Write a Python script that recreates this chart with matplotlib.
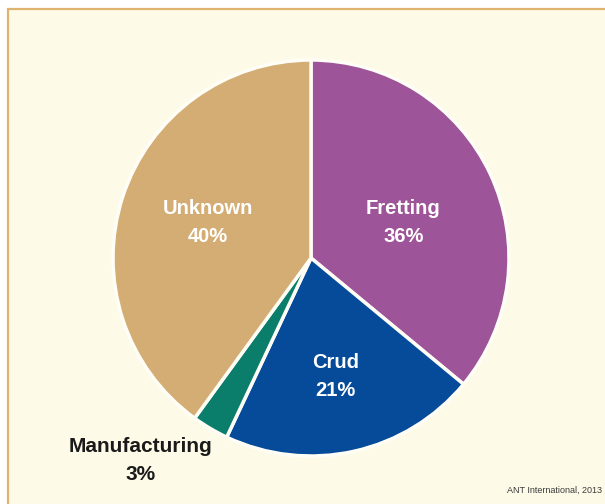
import numpy as np
import matplotlib.pyplot as plt
from matplotlib.patches import Rectangle

# failure causes, clockwise from 12 o'clock
causes = ["Fretting", "Crud", "Manufacturing", "Unknown"]
shares = [36, 21, 3, 40]
colors = ["#9E5498", "#054B9A", "#0B7E6B", "#D4AD74"]
credit = "ANT International, 2013"

W, H = 605, 504
bg = "#FEFAE8"
fig = plt.figure(figsize=(W / 100, H / 100), dpi=100)
fig.patch.set_facecolor("white")
ax = fig.add_axes([0, 0, 1, 1])

# cream panel with tan frame on the left and top
ax.add_patch(Rectangle((8, -5), W, H - 9 + 5, facecolor=bg,
                       edgecolor="#DDB36E", linewidth=1.6, zorder=0))

cx, cy, R = 311, H - 258, 198
wedges, _ = ax.pie(shares, colors=colors, startangle=90, counterclock=False,
                   center=(cx, cy), radius=R, frame=True,
                   wedgeprops=dict(edgecolor="#FFFEF6", linewidth=2.5))

# label radius (fraction of R) and angle tweak for each slice
lab_r = [0.50, 0.61, 1.335, 0.55]
lab_da = [-4, -1, -9.5, -1]
for w, name, val, r, da in zip(wedges, causes, shares, lab_r, lab_da):
    ang = np.deg2rad((w.theta1 + w.theta2) / 2 + da)
    x = cx + r * R * np.cos(ang)
    y = cy + r * R * np.sin(ang)
    tc = "#1a1a1a" if name == "Manufacturing" else "white"
    fs = 15 if name == "Manufacturing" else 14.5
    ax.text(x, y, f"{name}\n{val}%", ha="center", va="center",
            color=tc, fontsize=fs, fontweight="bold",
            family="Liberation Sans", linespacing=1.6)

ax.text(602, H - 490, credit, ha="right", va="center", fontsize=6.5,
        color="#3a3a3a", family="Liberation Sans")

ax.set_xlim(0, W)
ax.set_ylim(0, H)
ax.set_aspect("auto")
ax.axis("off")

fig.savefig("out.png", dpi=100)
